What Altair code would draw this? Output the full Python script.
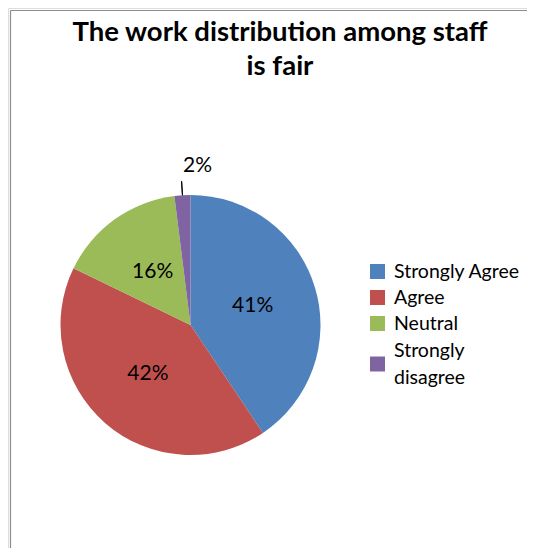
import altair as alt
import pandas as pd

categories = ["Strongly Agree", "Agree", "Neutral", "Strongly disagree"]
values = [41, 42, 16, 2]
labels = ["41%", "42%", "16%", "2%"]
colors = ["#4F81BD", "#C0504D", "#9BBB59", "#8064A2"]
title_lines = ["The work distribution among staff", "is fair"]

df = pd.DataFrame({
    "cat": categories,
    "value": values,
    "label": labels,
    "order": list(range(len(categories))),
})

W, H = 519, 540
CX, CY = 182.5, 317
R = 130
FONT = "Lato"
total = sum(values)

theta_scale = alt.Scale(domain=[0, total])
color_scale = alt.Scale(domain=categories, range=colors)
base = alt.Chart(df)

pie = base.mark_arc(radius=R).encode(
    theta=alt.Theta("value:Q", stack=True, scale=theta_scale),
    order=alt.Order("order:Q"),
    color=alt.Color("cat:N", scale=color_scale, legend=None),
    x=alt.value(CX),
    y=alt.value(CY),
)

inner_labels = base.transform_calculate(
    t="datum.order < 3 ? datum.label : ''"
).mark_text(radius=65, font=FONT, fontSize=21, color="#000000").encode(
    theta=alt.Theta("value:Q", stack=True, scale=theta_scale),
    order=alt.Order("order:Q"),
    text="t:N",
    x=alt.value(CX),
    y=alt.value(CY),
)

outer_label = base.transform_calculate(
    t="datum.order == 3 ? datum.label : ''"
).mark_text(radius=159, dx=17, font=FONT, fontSize=21, color="#000000").encode(
    theta=alt.Theta("value:Q", stack=True, scale=theta_scale),
    order=alt.Order("order:Q"),
    text="t:N",
    x=alt.value(CX),
    y=alt.value(CY),
)

leader = base.transform_window(
    cum="sum(value)", sort=[alt.SortField("order")], frame=[None, 0]
).transform_calculate(
    mid="datum.cum - datum.value / 2",
    mid2="datum.cum - datum.value / 2 + 0.01",
).transform_filter("datum.order == 3").mark_arc(
    radius=R + 14, radius2=R, stroke="#000000", strokeWidth=1, fillOpacity=0
).encode(
    theta=alt.Theta("mid:Q", stack=None, scale=theta_scale),
    theta2="mid2:Q",
    x=alt.value(CX),
    y=alt.value(CY),
)

# manual legend
legend_y = alt.Scale(domain=[0, 1, 2, 3], range=[263.5, 289.5, 315.5, 356],
                     nice=False, zero=False)
legend_symbols = base.mark_square(size=225, opacity=1, strokeWidth=0).encode(
    x=alt.value(369.5),
    y=alt.Y("order:Q", scale=legend_y, axis=None),
    color=alt.Color("cat:N", scale=color_scale, legend=None),
)
legend_text = base.transform_filter("datum.order < 3").mark_text(
    align="left", baseline="middle", font=FONT, fontSize=19.5, color="#000000"
).encode(
    x=alt.value(386),
    y=alt.Y("order:Q", scale=legend_y, axis=None),
    text=alt.Text("cat:N"),
)
legend_text2 = base.transform_filter("datum.order == 3").transform_calculate(
    lt="split(datum.cat, ' ')"
).mark_text(
    align="left", baseline="middle", font=FONT, fontSize=19.5,
    lineHeight=27, dy=-13.5, color="#000000"
).encode(
    x=alt.value(386),
    y=alt.Y("order:Q", scale=legend_y, axis=None),
    text=alt.Text("lt:N"),
)

title = alt.Chart(pd.DataFrame({"t": [0]})).mark_text(
    text=title_lines,
    font=FONT,
    fontSize=27.5,
    fontWeight="bold",
    lineHeight=34,
    align="center",
    baseline="alphabetic",
    color="#000000",
).encode(x=alt.value(272), y=alt.value(32.5))

frame_left = alt.Chart(pd.DataFrame({"t": [0]})).mark_rule(
    color="#8c8c8c", strokeWidth=1.2
).encode(x=alt.value(2.5), y=alt.value(2.5), y2=alt.value(H + 20))

frame_top = alt.Chart(pd.DataFrame({"t": [0]})).mark_rule(
    color="#8c8c8c", strokeWidth=1.2
).encode(x=alt.value(2.5), x2=alt.value(W + 20), y=alt.value(2.5))

chart = alt.layer(
    frame_left, frame_top, title, pie, inner_labels, outer_label, leader,
    legend_symbols, legend_text, legend_text2
).properties(
    width=W, height=H, autosize=alt.AutoSizeParams(type="none"), padding=0
).configure_view(strokeWidth=0, stroke="transparent").configure(background="white")

chart.save("out.html", embed_options={"renderer": "svg", "actions": False})
